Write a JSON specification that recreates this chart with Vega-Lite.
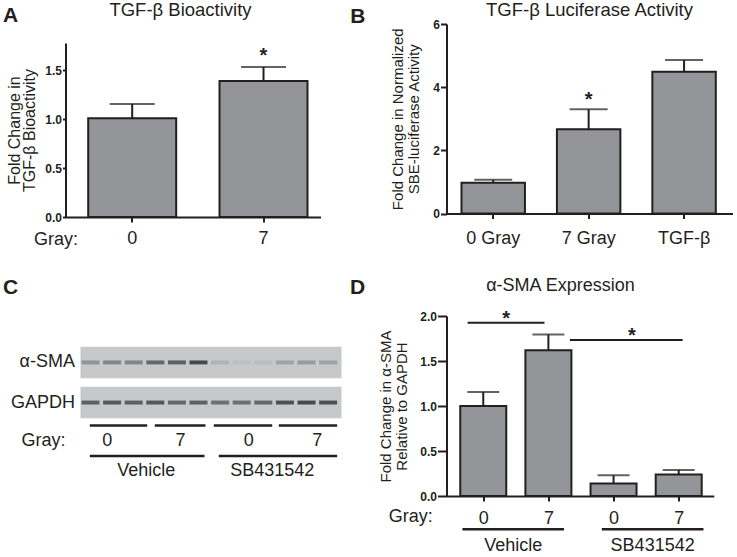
{
  "$schema": "https://vega.github.io/schema/vega-lite/v6.json",
  "padding": {"left": 2.5, "top": 0, "right": 0, "bottom": 0},
  "config": {
    "font": "Liberation Sans",
    "view": {"stroke": null},
    "axis": {"grid": false, "domainColor": "#231f20", "domainWidth": 2, "tickColor": "#231f20", "tickWidth": 2, "labelColor": "#231f20", "titleColor": "#231f20", "labelFont": "Liberation Sans", "titleFont": "Liberation Sans", "titleFontWeight": "normal"},
    "axisX": {"labelFontSize": 18, "labelAngle": 0, "tickSize": 5, "labelPadding": 7, "titleFontSize": 18},
    "axisY": {"labelFontSize": 12, "labelFontWeight": "bold", "tickSize": 4, "labelPadding": 1, "titleFontSize": 15, "titleLineHeight": 16, "titlePadding": 8},
    "title": {"font": "Liberation Sans", "fontWeight": "normal", "color": "#231f20", "fontSize": 18.5, "anchor": "middle", "frame": "group", "offset": 0, "baseline": "alphabetic"},
    "text": {"font": "Liberation Sans", "color": "#231f20"}
  },
  "columns": 2,
  "bounds": "flush",
  "align": "each",
  "spacing": {"row": 99, "column": 105},
  "concat": [
    {
      "width": 255,
      "height": 193,
      "title": {"text": "TGF-β Bioactivity", "dx": -12.5, "dy": 18.6},
      "data": {"values": [
        {"gray": "0", "mean": 1.01, "hi": 1.156, "sig": ""},
        {"gray": "7", "mean": 1.39, "hi": 1.535, "sig": "*"}
      ]},
      "layer": [
        {
          "mark": {"type": "bar", "fill": "#939598", "stroke": "#231f20", "strokeWidth": 2},
          "encoding": {
            "x": {"field": "gray", "type": "nominal", "sort": null,
                  "scale": {"paddingInner": 0.33, "paddingOuter": 0.136, "align": 0.636},
                  "axis": {"title": "Gray:", "titleX": 12, "titleY": 27.3, "titleAlign": "right", "titleBaseline": "alphabetic"}},
            "y": {"field": "mean", "type": "quantitative",
                  "scale": {"domain": [0, 1.78], "range": [193, 19], "nice": false, "zero": true},
                  "axis": {"values": [0, 0.5, 1, 1.5], "format": ".1f", "tickSize": 3, "title": ["Fold Change in", "TGF-β Bioactivity"], "titleFontSize": 16, "titleLineHeight": 15, "titlePadding": 7.5}}
          }
        },
        {
          "mark": {"type": "rule", "stroke": "#231f20", "strokeWidth": 2},
          "encoding": {
            "x": {"field": "gray", "type": "nominal", "sort": null,
                  "axis": {"orient": "top", "domain": false, "ticks": false, "labels": false, "title": "A", "titleFontSize": 21, "titleFontWeight": "bold", "titleAngle": 0, "titleAlign": "left", "titleBaseline": "alphabetic", "titleX": -62.9, "titleY": -2.3}},
            "y": {"field": "mean", "type": "quantitative"},
            "y2": {"field": "hi"}
          }
        },
        {
          "mark": {"type": "tick", "orient": "horizontal", "size": 45, "thickness": 2, "color": "#231f20"},
          "encoding": {
            "x": {"field": "gray", "type": "nominal", "sort": null, "axis": null},
            "y": {"field": "hi", "type": "quantitative"}
          }
        },
        {
          "mark": {"type": "text", "dy": -4.5, "fontSize": 20, "fontWeight": "bold", "baseline": "alphabetic"},
          "encoding": {
            "x": {"field": "gray", "type": "nominal", "sort": null, "axis": null},
            "y": {"field": "hi", "type": "quantitative"},
            "text": {"field": "sig"}
          }
        }
      ],
      "resolve": {"axis": {"x": "independent"}}
    },
    {
      "width": 286,
      "height": 189.5,
      "title": {"text": "TGF-β Luciferase Activity", "dx": 0, "dy": 18.3},
      "data": {"values": [
        {"cond": "0 Gray", "mean": 0.97, "hi": 1.07, "sig": ""},
        {"cond": "7 Gray", "mean": 2.67, "hi": 3.30, "sig": "*"},
        {"cond": "TGF-β", "mean": 4.49, "hi": 4.86, "sig": ""}
      ]},
      "layer": [
        {
          "mark": {"type": "bar", "fill": "#939598", "stroke": "#231f20", "strokeWidth": 2},
          "encoding": {
            "x": {"field": "cond", "type": "nominal", "sort": null,
                  "scale": {"paddingInner": 0.335, "paddingOuter": 0.166, "align": 0.473},
                  "axis": {"title": null, "labelPadding": 11}},
            "y": {"field": "mean", "type": "quantitative",
                  "scale": {"domain": [0, 6], "nice": false},
                  "axis": {"values": [0, 2, 4, 6], "format": "d", "tickSize": 6, "titlePadding": 11, "title": ["Fold Change in Normalized", "SBE-luciferase Activity"]}}
          }
        },
        {
          "mark": {"type": "rule", "stroke": "#231f20", "strokeWidth": 2},
          "encoding": {
            "x": {"field": "cond", "type": "nominal", "sort": null,
                  "axis": {"orient": "top", "domain": false, "ticks": false, "labels": false, "title": "B", "titleFontSize": 21, "titleFontWeight": "bold", "titleAngle": 0, "titleAlign": "left", "titleBaseline": "alphabetic", "titleX": -96.8, "titleY": -2}},
            "y": {"field": "mean", "type": "quantitative"},
            "y2": {"field": "hi"}
          }
        },
        {
          "mark": {"type": "tick", "orient": "horizontal", "size": 38, "thickness": 2, "color": "#231f20"},
          "encoding": {
            "x": {"field": "cond", "type": "nominal", "sort": null, "axis": null},
            "y": {"field": "hi", "type": "quantitative"}
          }
        },
        {
          "mark": {"type": "text", "dy": -3.5, "fontSize": 20, "fontWeight": "bold", "baseline": "alphabetic"},
          "encoding": {
            "x": {"field": "cond", "type": "nominal", "sort": null, "axis": null},
            "y": {"field": "hi", "type": "quantitative"},
            "text": {"field": "sig"}
          }
        }
      ],
      "resolve": {"axis": {"x": "independent"}}
    },
    {
      "width": 276,
      "height": 180,
      "layer": [
        {
          "layer": [
            {
              "data": {"values": [{"protein": "α-SMA"}, {"protein": "GAPDH"}]},
              "mark": {"type": "rect", "color": "#c7c8ca"},
              "encoding": {
                "x": {"datum": 0.537, "type": "quantitative",
                      "scale": {"domain": [-0.157, 12.62], "nice": false, "zero": false},
                      "axis": {"orient": "top", "domain": false, "ticks": false, "labels": false, "title": "C", "titleFontSize": 21, "titleFontWeight": "bold", "titleAngle": 0, "titleAlign": "left", "titleBaseline": "alphabetic", "titleX": -62.9, "titleY": -22.5}},
                "x2": {"datum": 12.62},
                "y": {"field": "protein", "type": "nominal", "sort": null,
                      "scale": {"range": [30.66, 102.3], "paddingInner": 0.214, "paddingOuter": 0},
                      "axis": {"title": null, "domain": false, "ticks": false, "labelFontSize": 18, "labelFontWeight": "normal", "labelPadding": -9}}
              }
            },
            {
              "data": {"values": [
                {"lane": 1, "protein": "α-SMA", "intensity": 0.35},
                {"lane": 2, "protein": "α-SMA", "intensity": 0.45},
                {"lane": 3, "protein": "α-SMA", "intensity": 0.45},
                {"lane": 4, "protein": "α-SMA", "intensity": 0.65},
                {"lane": 5, "protein": "α-SMA", "intensity": 0.7},
                {"lane": 6, "protein": "α-SMA", "intensity": 0.85},
                {"lane": 7, "protein": "α-SMA", "intensity": 0.15},
                {"lane": 8, "protein": "α-SMA", "intensity": 0.06},
                {"lane": 9, "protein": "α-SMA", "intensity": 0.08},
                {"lane": 10, "protein": "α-SMA", "intensity": 0.25},
                {"lane": 11, "protein": "α-SMA", "intensity": 0.3},
                {"lane": 12, "protein": "α-SMA", "intensity": 0.25},
                {"lane": 1, "protein": "GAPDH", "intensity": 0.7},
                {"lane": 2, "protein": "GAPDH", "intensity": 0.75},
                {"lane": 3, "protein": "GAPDH", "intensity": 0.7},
                {"lane": 4, "protein": "GAPDH", "intensity": 0.75},
                {"lane": 5, "protein": "GAPDH", "intensity": 0.65},
                {"lane": 6, "protein": "GAPDH", "intensity": 0.7},
                {"lane": 7, "protein": "GAPDH", "intensity": 0.6},
                {"lane": 8, "protein": "GAPDH", "intensity": 0.6},
                {"lane": 9, "protein": "GAPDH", "intensity": 0.65},
                {"lane": 10, "protein": "GAPDH", "intensity": 0.8},
                {"lane": 11, "protein": "GAPDH", "intensity": 0.85},
                {"lane": 12, "protein": "GAPDH", "intensity": 0.8}
              ]},
              "mark": {"type": "point", "shape": "M-1,-0.22L1,-0.22L1,0.22L-1,0.22Z", "size": 324, "filled": true, "color": "#333333"},
              "encoding": {
                "x": {"field": "lane", "type": "quantitative"},
                "y": {"field": "protein", "type": "nominal", "sort": null},
                "opacity": {"field": "intensity", "type": "quantitative", "scale": null}
              }
            }
          ]
        },
        {
          "layer": [
            {
              "data": {"values": [
                {"level": "lanes", "from": 0.968, "to": 3.625},
                {"level": "lanes", "from": 3.977, "to": 6.324},
                {"level": "lanes", "from": 6.708, "to": 9.412},
                {"level": "lanes", "from": 9.718, "to": 12.42},
                {"level": "groups", "from": 0.968, "to": 6.278},
                {"level": "groups", "from": 6.94, "to": 12.42}
              ]},
              "mark": {"type": "rule", "strokeWidth": 2.5, "color": "#231f20"},
              "encoding": {
                "x": {"field": "from", "type": "quantitative"},
                "x2": {"field": "to"},
                "y": {"field": "level", "type": "nominal",
                      "scale": {"type": "point", "domain": ["lanes", "gray", "groups", "treatment"], "range": [109.6, 155.2], "padding": 0},
                      "axis": null}
              }
            },
            {
              "data": {"values": [
                {"level": "gray", "at": 1.773, "label": "0"},
                {"level": "gray", "at": 5.167, "label": "7"},
                {"level": "gray", "at": 8.329, "label": "0"},
                {"level": "gray", "at": 11.495, "label": "7"},
                {"level": "treatment", "at": 3.579, "label": "Vehicle"},
                {"level": "treatment", "at": 9.412, "label": "SB431542"}
              ]},
              "mark": {"type": "text", "fontSize": 18, "baseline": "middle"},
              "encoding": {
                "x": {"field": "at", "type": "quantitative"},
                "y": {"field": "level", "type": "nominal", "axis": null},
                "text": {"field": "label"}
              }
            },
            {
              "data": {"values": [{"level": "gray", "at": -0.157, "label": "Gray:"}]},
              "mark": {"type": "text", "fontSize": 18, "baseline": "middle", "align": "right"},
              "encoding": {
                "x": {"field": "at", "type": "quantitative"},
                "y": {"field": "level", "type": "nominal", "axis": null},
                "text": {"field": "label"}
              }
            }
          ]
        }
      ],
      "resolve": {"scale": {"y": "independent"}}
    },
    {
      "width": 267.3,
      "height": 180,
      "title": {"text": "α-SMA Expression", "dx": -19.7, "dy": 22.5, "fontSize": 18},
      "layer": [
        {
          "data": {"name": "dbars", "values": [
            {"pos": 1, "treatment": "Vehicle", "gray": "0", "mean": 1.0, "hi": 1.155},
            {"pos": 2, "treatment": "Vehicle", "gray": "7", "mean": 1.62, "hi": 1.795},
            {"pos": 3, "treatment": "SB431542", "gray": "0", "mean": 0.14, "hi": 0.23},
            {"pos": 4, "treatment": "SB431542", "gray": "7", "mean": 0.24, "hi": 0.29}
          ]},
          "mark": {"type": "bar", "orient": "vertical", "width": 46, "fill": "#939598", "stroke": "#231f20", "strokeWidth": 2},
          "encoding": {
            "x": {"field": "pos", "type": "quantitative",
                  "scale": {"domain": [0.5126, 4.462], "nice": false, "zero": false},
                  "axis": {"values": [1, 2, 3, 4], "labelExpr": "['', '0', '7', '0', '7'][datum.value]", "labelPadding": 8, "title": "Gray:", "titleX": -14.3, "titleY": 25.7, "titleAlign": "right", "titleBaseline": "alphabetic"}},
            "y": {"field": "mean", "type": "quantitative",
                  "scale": {"domain": [0, 2], "nice": false},
                  "axis": {"values": [0, 0.5, 1, 1.5, 2], "format": ".1f", "tickSize": 9, "titlePadding": 10, "title": ["Fold Change in α-SMA", "Relative to GAPDH"]}}
          }
        },
        {
          "data": {"name": "dbars"},
          "mark": {"type": "rule", "stroke": "#231f20", "strokeWidth": 2},
          "encoding": {
            "x": {"field": "pos", "type": "quantitative",
                  "axis": {"orient": "top", "domain": false, "ticks": false, "labels": false, "title": "D", "titleFontSize": 21, "titleFontWeight": "bold", "titleAngle": 0, "titleAlign": "left", "titleBaseline": "alphabetic", "titleX": -97, "titleY": -23}},
            "y": {"field": "mean", "type": "quantitative"},
            "y2": {"field": "hi"}
          }
        },
        {
          "data": {"name": "dbars"},
          "mark": {"type": "tick", "orient": "horizontal", "size": 32, "thickness": 2, "color": "#231f20"},
          "encoding": {
            "x": {"field": "pos", "type": "quantitative", "axis": null},
            "y": {"field": "hi", "type": "quantitative"}
          }
        },
        {
          "data": {"name": "dsig", "values": [
            {"from": 0.76, "to": 1.94, "mid": 1.35, "level": 1.926, "label": "*"},
            {"from": 2.33, "to": 4.06, "mid": 3.28, "level": 1.733, "label": "*"}
          ]},
          "mark": {"type": "rule", "stroke": "#231f20", "strokeWidth": 2},
          "encoding": {
            "x": {"field": "from", "type": "quantitative", "axis": null},
            "x2": {"field": "to"},
            "y": {"field": "level", "type": "quantitative"}
          }
        },
        {
          "data": {"name": "dsig"},
          "mark": {"type": "text", "dy": 2, "fontSize": 20, "fontWeight": "bold", "baseline": "alphabetic"},
          "encoding": {
            "x": {"field": "mid", "type": "quantitative", "axis": null},
            "y": {"field": "level", "type": "quantitative"},
            "text": {"field": "label"}
          }
        },
        {
          "data": {"name": "dgroups", "values": [
            {"label": "Vehicle", "from": 0.68, "to": 2.24, "mid": 1.46},
            {"label": "SB431542", "from": 2.82, "to": 4.38, "mid": 3.6}
          ]},
          "mark": {"type": "rule", "stroke": "#231f20", "strokeWidth": 2.5},
          "encoding": {
            "x": {"field": "from", "type": "quantitative", "axis": null},
            "x2": {"field": "to"},
            "y": {"datum": -0.37, "type": "quantitative"}
          }
        },
        {
          "data": {"name": "dgroups"},
          "mark": {"type": "text", "fontSize": 18, "baseline": "middle"},
          "encoding": {
            "x": {"field": "mid", "type": "quantitative", "axis": null},
            "y": {"datum": -0.556, "type": "quantitative"},
            "text": {"field": "label"}
          }
        }
      ],
      "resolve": {"axis": {"x": "independent"}}
    }
  ]
}
